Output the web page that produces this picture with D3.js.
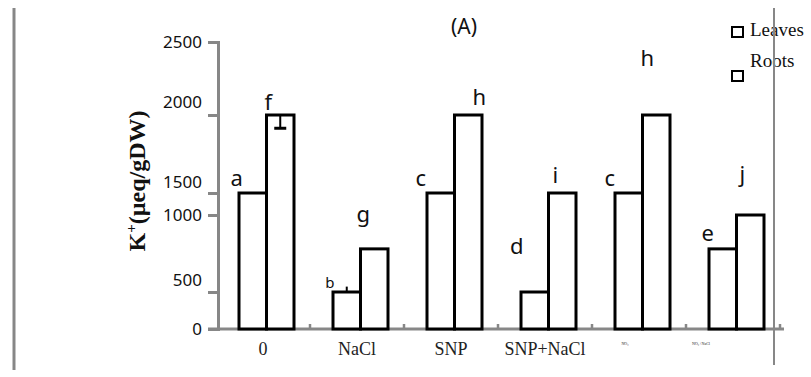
<!DOCTYPE html>
<html>
<head>
<meta charset="utf-8">
<script src="https://cdn.jsdelivr.net/npm/d3@7"></script>
<style>
  body { margin: 0; background: #fff; }
</style>
</head>
<body>
<div id="chart"></div>
<script>
const categories = ['0', 'NaCl', 'SNP', 'SNP+NaCl', 'NO\u2082', 'NO\u2082+NaCl'];
const seriesNames = ['Leaves', 'Roots'];
const leaves = [1500, 500, 1500, 500, 1500, 780];
const roots = [2000, 780, 2000, 1500, 2000, 1000];
const leavesErr = [0, 35, 0, 0, 0, 0];
const rootsErr = [-85, 0, 0, 0, 0, 0];
const leavesLetters = ['a', 'b', 'c', 'd', 'c', 'e'];
const rootsLetters = ['f', 'g', 'h', 'i', 'h', 'j'];
const yTicks = [0, 500, 1000, 1500, 2000, 2500];

// letter nudges [dx, dy] from the top centre of their bar (px)
const leavesNudge = [[-16, -7], [-17, -4], [-20, -7], [-18, -38], [-19, -7], [-15, -8]];
const rootsNudge = [[-12, -5], [-11, -27], [11, -10], [-7, -10], [-9, -49], [-8, -33]];
// tick labels sit a bit off their ticks in the original
const tickLabelShift = [0, -12, 0, -11, -13, 0];

const W = 811, H = 377;
const grey = '#878787';

const svg = d3.select('#chart').append('svg')
  .attr('width', W)
  .attr('height', H);

// the axis of the original is not even, so a polylinear scale
const y = d3.scaleLinear()
  .domain(yTicks)
  .range([329, 292, 215, 193, 115, 42]);

const x0 = d3.scaleBand()
  .domain(categories)
  .range([216, 780]);

const x1 = d3.scaleBand()
  .domain(seriesNames)
  .range([23, 78]);

const series = [
  { name: 'Leaves', values: leaves, err: leavesErr, letters: leavesLetters, nudge: leavesNudge },
  { name: 'Roots', values: roots, err: rootsErr, letters: rootsLetters, nudge: rootsNudge },
];

// frame lines
svg.append('line')
  .attr('x1', 14).attr('x2', 14).attr('y1', 8).attr('y2', 370)
  .attr('stroke', grey).attr('stroke-width', 3);

// y axis
const yAxis = svg.append('g')
  .attr('transform', 'translate(218,0)')
  .call(d3.axisLeft(y).tickValues(yTicks).tickSize(10).tickPadding(6).tickFormat(d3.format('d')));
yAxis.select('.domain').attr('stroke', grey).attr('stroke-width', 3);
yAxis.selectAll('.tick line').attr('stroke', grey).attr('stroke-width', 3);
yAxis.selectAll('.tick text')
  .attr('font-family', 'Noto Sans')
  .attr('font-size', 17)
  .attr('fill', '#111')
  .attr('y', (d, i) => tickLabelShift[i]);

// x axis
const xAxis = svg.append('g')
  .attr('transform', 'translate(0,329)')
  .call(d3.axisBottom(x0).tickSize(0).tickPadding(13));
xAxis.select('.domain').remove();
xAxis.selectAll('.tick text')
  .attr('font-family', 'Liberation Serif')
  .attr('font-size', (d, i) => (i < 4 ? 18 : 4))
  .attr('dx', (d, i) => (i < 4 ? 0 : (i === 4 ? -14 : -32)))
  .attr('fill', '#222');
xAxis.append('line')
  .attr('x1', 208).attr('x2', x0.range()[1] + 4)
  .attr('stroke', grey).attr('stroke-width', 3);
xAxis.selectAll('.minor')
  .data(categories)
  .enter().append('line')
  .attr('class', 'minor')
  .attr('x1', (d) => x0(d) + x0.bandwidth())
  .attr('x2', (d) => x0(d) + x0.bandwidth())
  .attr('y1', 0).attr('y2', -5)
  .attr('stroke', grey).attr('stroke-width', 2.5);

// bars
series.forEach((s) => {
  svg.selectAll('.bar-' + s.name)
    .data(s.values)
    .enter().append('rect')
    .attr('class', 'bar-' + s.name)
    .attr('x', (d, i) => x0(categories[i]) + x1(s.name))
    .attr('y', (d) => y(d))
    .attr('width', x1.bandwidth())
    .attr('height', (d) => y(0) - y(d))
    .attr('fill', '#fff')
    .attr('stroke', '#000')
    .attr('stroke-width', 3);
});

// error bars
series.forEach((s) => {
  s.values.forEach((v, i) => {
    if (!s.err[i]) return;
    const cx = x0(categories[i]) + x1(s.name) + x1.bandwidth() / 2;
    svg.append('line')
      .attr('x1', cx).attr('x2', cx)
      .attr('y1', y(v)).attr('y2', y(v + s.err[i]))
      .attr('stroke', '#000').attr('stroke-width', 2);
    if (s.err[i] < 0) {
      svg.append('line')
        .attr('x1', cx - 6).attr('x2', cx + 6)
        .attr('y1', y(v + s.err[i])).attr('y2', y(v + s.err[i]))
        .attr('stroke', '#000').attr('stroke-width', 3);
    }
  });
});

// significance letters
series.forEach((s) => {
  svg.selectAll('.let-' + s.name)
    .data(s.letters)
    .enter().append('text')
    .attr('class', 'let-' + s.name)
    .attr('x', (d, i) => x0(categories[i]) + x1(s.name) + x1.bandwidth() / 2 + s.nudge[i][0])
    .attr('y', (d, i) => y(s.values[i]) + s.nudge[i][1])
    .attr('text-anchor', 'middle')
    .attr('font-family', 'Noto Sans')
    .attr('font-size', (d, i) => (s.name === 'Leaves' && i === 1 ? 15 : 22))
    .attr('fill', '#111')
    .text((d) => d);
});

// title
svg.append('text')
  .attr('x', 464).attr('y', 34)
  .attr('text-anchor', 'middle')
  .attr('font-family', 'Noto Sans')
  .attr('font-size', 21)
  .attr('fill', '#111')
  .text('(A)');

// y title
const yt = svg.append('text')
  .attr('transform', 'translate(145,181) rotate(-90)')
  .attr('text-anchor', 'middle')
  .attr('font-family', 'Liberation Serif')
  .attr('font-weight', 'bold')
  .attr('font-size', 24)
  .attr('fill', '#111');
yt.append('tspan').text('K');
yt.append('tspan').attr('font-size', 15).attr('dy', -9).text('+');
yt.append('tspan').attr('dy', 9).text('(\u00b5eq/gDW)');

// legend
const legend = svg.append('g');
seriesNames.forEach((n, i) => {
  legend.append('rect')
    .attr('x', 732).attr('y', i === 0 ? 27 : 71)
    .attr('width', 11).attr('height', 10)
    .attr('fill', '#fff').attr('stroke', '#000').attr('stroke-width', 2);
  legend.append('text')
    .attr('x', 750).attr('y', i === 0 ? 36 : 67)
    .attr('font-family', 'Liberation Serif')
    .attr('font-size', 19)
    .attr('fill', '#111')
    .text(n);
});

svg.append('line')
  .attr('x1', 774).attr('x2', 774).attr('y1', 8).attr('y2', 365)
  .attr('stroke', grey).attr('stroke-width', 2);
</script>
</body>
</html>
